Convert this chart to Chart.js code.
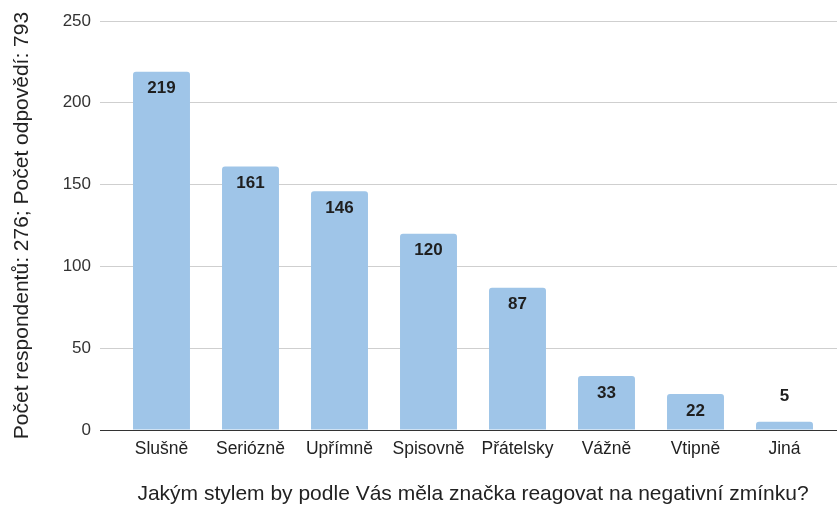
<!DOCTYPE html>
<html>
<head>
<meta charset="utf-8">
<script src="https://cdn.jsdelivr.net/npm/chart.js@4/dist/chart.umd.min.js"></script>
<style>
    html, body { margin: 0; padding: 0; background: #fff; }
    #wrap { width: 837px; height: 507px; }
</style>
</head>
<body>
<div id="wrap"><canvas id="styleChart"></canvas></div>
<script>
const categories = ["Slušně", "Seriózně", "Upřímně", "Spisovně", "Přátelsky", "Vážně", "Vtipně", "Jiná"];
const answers = [219, 161, 146, 120, 87, 33, 22, 5];

const xTitle = "Jakým stylem by podle Vás měla značka reagovat na negativní zmínku?";
const yTitle = "Počet respondentů: 276; Počet odpovědí: 793";

const FONT = "'Liberation Sans', Arial, Helvetica, sans-serif";
const gridColor = (ctx) => (ctx.tick && ctx.tick.value === 0 ? "#333" : "#cfcfcf");

// values printed on the bars: inside the top when there is room, above otherwise
const barValues = {
    id: "barValues",
    afterDatasetsDraw(chart) {
        const ctx = chart.ctx;
        const meta = chart.getDatasetMeta(0);
        ctx.save();
        ctx.font = "bold 17px " + FONT;
        ctx.fillStyle = "#1f1f1f";
        ctx.textAlign = "center";
        ctx.textBaseline = "middle";
        meta.data.forEach((bar, i) => {
            const h = bar.base - bar.y;
            const y = h > 30 ? bar.y + 17 : bar.y - 26;
            ctx.fillText(String(answers[i]), bar.x, y);
        });
        ctx.restore();
    }
};

const styleChart = new Chart(document.getElementById("styleChart"), {
    type: "bar",
    data: {
        labels: categories,
        datasets: [
            {
                data: answers,
                backgroundColor: "#9fc5e8",
                borderRadius: 3,
                barPercentage: 0.64,
                categoryPercentage: 1
            }
        ]
    },
    options: {
        responsive: true,
        maintainAspectRatio: false,
        animation: false,
        layout: { padding: { top: 21, right: 0, bottom: 0, left: 0 } },
        plugins: {
            legend: { display: false },
            tooltip: { enabled: false }
        },
        scales: {
            x: {
                grid: { display: false, drawTicks: false },
                border: { display: false },
                ticks: { color: "#222", padding: 9, font: { family: FONT, size: 17.5 } },
                title: {
                    display: true,
                    text: xTitle,
                    color: "#222",
                    font: { family: FONT, size: 21 },
                    padding: { top: 0, bottom: 0 }
                },
                afterFit(scale) { scale.height = 77; }
            },
            y: {
                min: 0,
                max: 250,
                ticks: { stepSize: 50, color: "#333", padding: 9, font: { family: FONT, size: 17 } },
                grid: { color: gridColor, tickLength: 17 },
                border: { display: false },
                title: {
                    display: true,
                    text: yTitle,
                    color: "#222",
                    font: { family: FONT, size: 21 },
                    padding: { top: 10, bottom: 0 }
                },
                afterFit(scale) { scale.width = 117; }
            },
            yRight: {
                position: "right",
                min: 0,
                max: 250,
                ticks: { stepSize: 50, display: false },
                grid: { color: gridColor, drawOnChartArea: false, tickLength: 8 },
                border: { display: false },
                afterFit(scale) { scale.width = 8; }
            }
        }
    },
    plugins: [barValues]
});
</script>
</body>
</html>
